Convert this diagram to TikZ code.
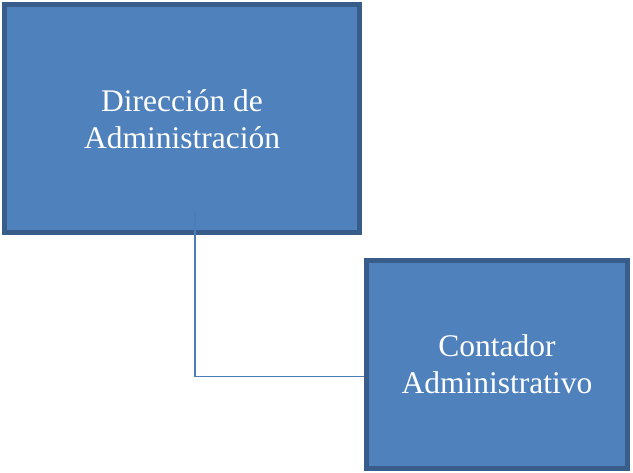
\documentclass[tikz,border=0pt]{standalone}
\usepackage{fontspec}
\setmainfont{Liberation Serif}
\definecolor{boxfill}{HTML}{4F81BD}
\definecolor{boxline}{HTML}{385D8A}
\definecolor{connline}{HTML}{4A7EBB}
\tikzset{
    orgbox/.style={draw=boxline, fill=boxfill, line width=5pt, inner sep=0pt,
        text=white, align=center,
        font=\fontsize{31.5}{37}\selectfont},
    conn/.style={draw=connline, line width=1.6pt}
}
\begin{document}
\begin{tikzpicture}[x=1pt, y=-1pt]
\useasboundingbox (0,0) rectangle (633,473);
\node[orgbox, minimum width=355pt, minimum height=228pt] (dir) at (182,119) {Dirección de\\Administración};
\node[orgbox, minimum width=261pt, minimum height=208pt] (cont) at (497,364.5) {Contador\\Administrativo};
\coordinate (start) at (195,212);
\coordinate (elbow) at (195,376.5);
\draw[conn] (start)--(elbow)--(cont.west |- elbow);
\end{tikzpicture}
\end{document}
